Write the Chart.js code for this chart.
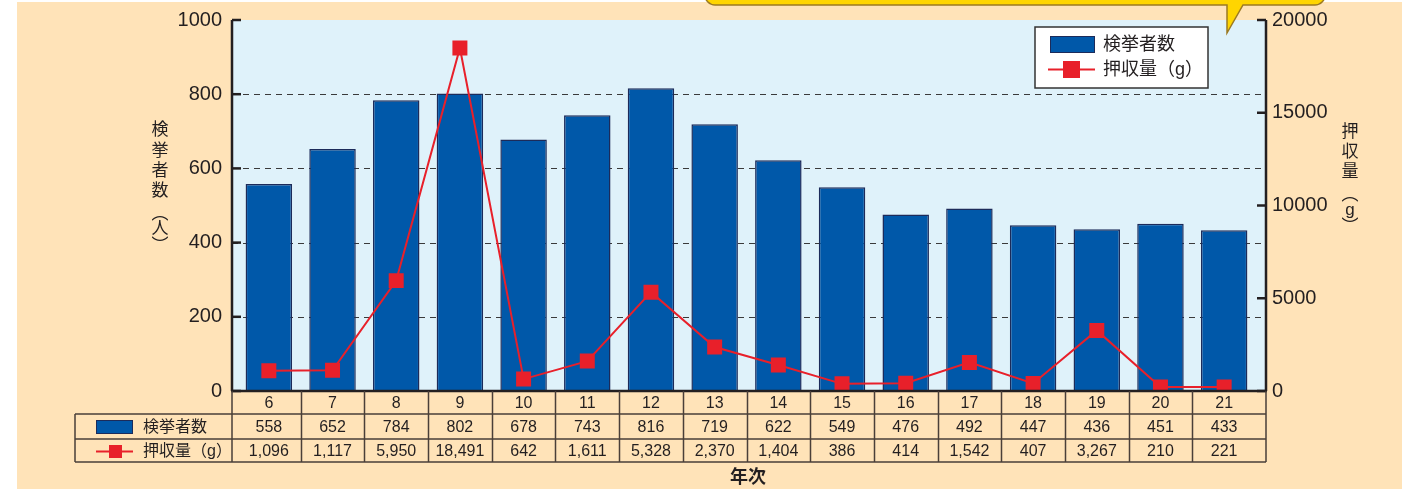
<!DOCTYPE html>
<html>
<head>
<meta charset="utf-8">
<script src="https://cdn.jsdelivr.net/npm/chart.js@4/dist/chart.umd.min.js"></script>
<style>
  html, body { margin: 0; padding: 0; background: #ffffff; }
  canvas { display: block; }
</style>
</head>
<body>
<canvas id="chart" width="1402" height="489"></canvas>
<script>
// 年次ごとの検挙者数と押収量
const years = ['6', '7', '8', '9', '10', '11', '12', '13', '14', '15', '16', '17', '18', '19', '20', '21'];
const arrests = [558, 652, 784, 802, 678, 743, 816, 719, 622, 549, 476, 492, 447, 436, 451, 433];
const seized = [1096, 1117, 5950, 18491, 642, 1611, 5328, 2370, 1404, 386, 414, 1542, 407, 3267, 210, 221];

const leftTitle = ['検', '挙', '者', '数', '︵', '人', '︶'];
const rightTitle = ['押', '収', '量', '︵', 'g', '︶'];
const xTitle = '年次';

const FONT = "'Liberation Sans', 'Noto Sans CJK JP', sans-serif";
const INK = '#231f20';
const LINE = '#4a3f38';
const PEACH = '#ffe3b8';
const SKY = '#dff2fa';
const BLUE = '#0058a9';
const BAR_EDGE = '#1c2b5a';
const RED = '#e8202a';

// 描画範囲（枠）
const PLOT_L = 232, PLOT_R = 1266, ROW1 = 414, ROW2 = 439, ROW3 = 462, TABLE_L = 75;

const decor = {
    id: 'decor',
    beforeDraw(chart) {
        const ctx = chart.ctx;
        const ya = chart.scales.y;
        ctx.save();
        ctx.fillStyle = '#ffffff';
        ctx.fillRect(0, 0, chart.width, chart.height);
        ctx.fillStyle = PEACH;
        ctx.fillRect(17, 2, chart.width - 17, chart.height - 2);
        ctx.fillStyle = SKY;
        ctx.fillRect(PLOT_L, ya.top, PLOT_R - PLOT_L, ya.bottom - ya.top);
        ctx.restore();
    },
    beforeDatasetsDraw(chart) {
        // 破線のグリッド
        const ctx = chart.ctx;
        const ya = chart.scales.y;
        ctx.save();
        ctx.strokeStyle = '#3a3a3a';
        ctx.lineWidth = 1;
        ctx.setLineDash([6, 5]);
        ya.ticks.forEach(t => {
            if (t.value === ya.min || t.value === ya.max) return;
            const y = Math.round(ya.getPixelForValue(t.value)) + 0.5;
            ctx.beginPath();
            ctx.moveTo(PLOT_L, y);
            ctx.lineTo(PLOT_R, y);
            ctx.stroke();
        });
        ctx.restore();
    },
    afterDraw(chart) {
        const ctx = chart.ctx;
        const xa = chart.scales.x, ya = chart.scales.y, y2 = chart.scales.y2;
        const top = ya.top, bottom = ya.bottom;
        ctx.save();

        // 軸
        ctx.strokeStyle = INK;
        ctx.lineWidth = 2.5;
        ctx.beginPath();
        ctx.moveTo(PLOT_L, top);
        ctx.lineTo(PLOT_L, bottom);
        ctx.moveTo(PLOT_R, top);
        ctx.lineTo(PLOT_R, bottom);
        ctx.moveTo(PLOT_L - 1, bottom);
        ctx.lineTo(PLOT_R + 1, bottom);
        ctx.stroke();
        ctx.lineWidth = 2.5;
        ya.ticks.forEach(t => {
            const y = ya.getPixelForValue(t.value);
            ctx.beginPath();
            ctx.moveTo(PLOT_L, y);
            ctx.lineTo(PLOT_L + 9, y);
            ctx.stroke();
        });
        y2.ticks.forEach(t => {
            const y = y2.getPixelForValue(t.value);
            ctx.beginPath();
            ctx.moveTo(PLOT_R, y);
            ctx.lineTo(PLOT_R - 9, y);
            ctx.stroke();
        });

        // データ表
        const centers = years.map((_, i) => xa.getPixelForValue(i));
        const half = (centers[1] - centers[0]) / 2;
        ctx.strokeStyle = LINE;
        ctx.lineWidth = 1.5;
        ctx.beginPath();
        [ROW1, ROW2, ROW3].forEach(y => {
            ctx.moveTo(TABLE_L, y);
            ctx.lineTo(PLOT_R, y);
        });
        ctx.moveTo(TABLE_L, ROW1);
        ctx.lineTo(TABLE_L, ROW3);
        ctx.moveTo(PLOT_L, bottom);
        ctx.lineTo(PLOT_L, ROW3);
        ctx.moveTo(PLOT_R, bottom);
        ctx.lineTo(PLOT_R, ROW3);
        for (let i = 1; i < centers.length; i++) {
            const x = Math.round(centers[i] - half) + 0.5;
            ctx.moveTo(x, bottom);
            ctx.lineTo(x, ROW3);
        }
        ctx.stroke();

        ctx.fillStyle = INK;
        ctx.textAlign = 'center';
        ctx.textBaseline = 'middle';
        ctx.font = '16px ' + FONT;
        centers.forEach((cx, i) => {
            ctx.fillText(years[i], cx, (bottom + ROW1) / 2 + 1);
            ctx.fillText(String(arrests[i]), cx, (ROW1 + ROW2) / 2 + 1);
            ctx.fillText(seized[i].toLocaleString('en-US'), cx, (ROW2 + ROW3) / 2 + 1);
        });

        // 表の凡例
        ctx.fillStyle = BLUE;
        ctx.fillRect(96, 420, 37, 14);
        ctx.strokeStyle = BAR_EDGE;
        ctx.lineWidth = 1;
        ctx.strokeRect(96.5, 420.5, 36, 13);
        ctx.strokeStyle = RED;
        ctx.lineWidth = 2;
        ctx.beginPath();
        ctx.moveTo(96, 451.5);
        ctx.lineTo(133, 451.5);
        ctx.stroke();
        ctx.fillStyle = RED;
        ctx.fillRect(109, 445, 13, 13);
        ctx.fillStyle = INK;
        ctx.textAlign = 'left';
        ctx.font = '16px ' + FONT;
        ctx.fillText(chart.data.datasets[0].label, 143, (ROW1 + ROW2) / 2 + 1);
        ctx.fillText(chart.data.datasets[1].label, 143, (ROW2 + ROW3) / 2 + 1);

        // 凡例
        ctx.fillStyle = '#ffffff';
        ctx.fillRect(1035, 27, 173, 61);
        ctx.strokeStyle = '#333333';
        ctx.lineWidth = 1.5;
        ctx.strokeRect(1035, 27, 173, 61);
        ctx.fillStyle = BLUE;
        ctx.fillRect(1050, 36, 45, 17);
        ctx.strokeStyle = BAR_EDGE;
        ctx.lineWidth = 1;
        ctx.strokeRect(1050.5, 36.5, 44, 16);
        ctx.strokeStyle = RED;
        ctx.lineWidth = 2;
        ctx.beginPath();
        ctx.moveTo(1048, 69.5);
        ctx.lineTo(1095, 69.5);
        ctx.stroke();
        ctx.fillStyle = RED;
        ctx.fillRect(1063, 61, 17, 17);
        ctx.fillStyle = INK;
        ctx.font = '18px ' + FONT;
        ctx.fillText(chart.data.datasets[0].label, 1103, 45);
        ctx.fillText(chart.data.datasets[1].label, 1103, 70);

        // 軸タイトル（縦書き）
        ctx.textAlign = 'center';
        ctx.font = '17px ' + FONT;
        const leftY = [130, 151, 171, 191, 214, 229, 246];
        leftTitle.forEach((c, i) => ctx.fillText(c, 160, leftY[i]));
        const rightY = [132, 152, 172, 195, 210, 227];
        rightTitle.forEach((c, i) => ctx.fillText(c, 1350, rightY[i]));
        ctx.font = 'bold 18px ' + FONT;
        ctx.fillText(xTitle, 748, 478);

        // 吹き出し
        ctx.beginPath();
        ctx.moveTo(705, -20);
        ctx.lineTo(705, -5);
        ctx.arcTo(705, 5, 715, 5, 10);
        ctx.lineTo(1227, 5);
        ctx.lineTo(1227, 33);
        ctx.lineTo(1243, 5);
        ctx.lineTo(1315, 5);
        ctx.arcTo(1325, 5, 1325, -5, 10);
        ctx.lineTo(1325, -20);
        ctx.closePath();
        ctx.fillStyle = '#ffd500';
        ctx.fill();
        ctx.strokeStyle = '#9c7a22';
        ctx.lineWidth = 1.5;
        ctx.stroke();

        ctx.restore();
    }
};

function fixWidth(w) {
    return function (s) {
        s.width = w;
        s.paddingTop = 0;
        s.paddingBottom = 0;
    };
}

const ctx = document.getElementById('chart').getContext('2d');
new Chart(ctx, {
    type: 'bar',
    data: {
        labels: years,
        datasets: [
            {
                type: 'bar',
                label: '検挙者数',
                data: arrests,
                yAxisID: 'y',
                backgroundColor: BLUE,
                borderColor: BAR_EDGE,
                borderWidth: 1.5,
                barPercentage: 0.73,
                categoryPercentage: 1,
                order: 1
            },
            {
                type: 'line',
                label: '押収量（g）',
                data: seized,
                yAxisID: 'y2',
                borderColor: RED,
                borderWidth: 2,
                pointStyle: 'rect',
                pointRadius: 10.6,
                pointHoverRadius: 10.6,
                pointBackgroundColor: RED,
                pointBorderWidth: 0,
                tension: 0,
                order: 0
            }
        ]
    },
    options: {
        responsive: false,
        animation: false,
        devicePixelRatio: 1,
        layout: { padding: { top: 20, left: 0, right: 0, bottom: 0 } },
        plugins: {
            legend: { display: false },
            tooltip: { enabled: false }
        },
        scales: {
            x: {
                offset: true,
                ticks: { display: false },
                grid: { display: false, drawTicks: false },
                border: { display: false },
                afterFit(s) { s.height = 98; s.paddingLeft = 0; s.paddingRight = 0; }
            },
            y: {
                position: 'left',
                min: 0,
                max: 1000,
                ticks: { stepSize: 200, padding: 15, color: INK, font: { family: FONT, size: 20 }, callback: v => String(v) },
                grid: { display: false, drawTicks: false },
                border: { display: false },
                afterFit: fixWidth(237)
            },
            y2: {
                position: 'right',
                min: 0,
                max: 20000,
                ticks: { stepSize: 5000, padding: 16, color: INK, font: { family: FONT, size: 20 }, callback: v => String(v) },
                grid: { display: false, drawTicks: false },
                border: { display: false },
                afterFit: fixWidth(146)
            }
        }
    },
    plugins: [decor]
});
</script>
</body>
</html>
